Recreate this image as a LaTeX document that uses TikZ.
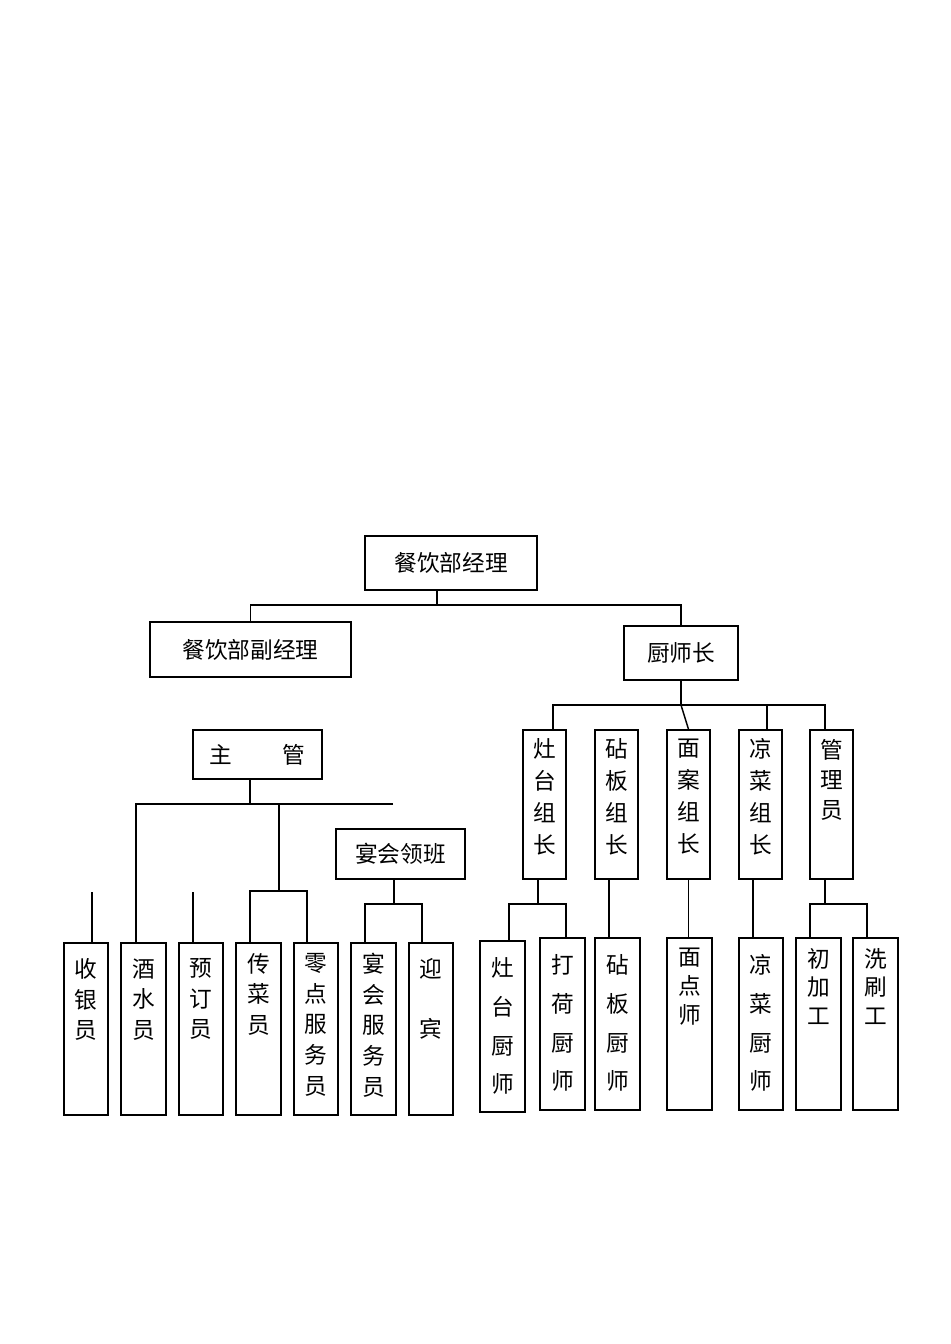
\documentclass[tikz,border=0pt]{standalone}
\usepackage{fontspec}
\newfontfamily\cjk{Noto Sans CJK SC}
\tikzset{
  bx/.style={draw, line width=1.1pt, inner sep=0pt},
  ln/.style={line width=1.1pt},
  tx/.style={anchor=north, align=center, inner sep=0pt, font=\cjk\fontsize{17}{#1}\selectfont},
  tx/.default=23pt
}
\newcommand\bx[5]{\node[bx, minimum width={(#4-#2)*0.75pt}, minimum height={(#5-#3)*0.75pt}] (#1) at ({(#2+#4)/2},{(#3+#5)/2}) {};}
\begin{document}
\begin{tikzpicture}[x=0.75pt,y=-0.75pt]
\useasboundingbox (0,0) rectangle (950,1344);
% top level
\node[bx, minimum width={172*0.75pt}, minimum height={54*0.75pt}, font=\cjk\fontsize{17}{20}\selectfont] (mgr) at (451,563) {餐饮部经理};
\node[bx, minimum width={201*0.75pt}, minimum height={55*0.75pt}, font=\cjk\fontsize{17}{20}\selectfont] (dep) at (250.5,649.5) {餐饮部副经理};
\node[bx, minimum width={114*0.75pt}, minimum height={54*0.75pt}, font=\cjk\fontsize{17}{20}\selectfont] (chef) at (681,653) {厨师长};
\coordinate (m1) at (437,605);
\draw[ln] (mgr.south -| m1) -- (m1);
\draw[ln] (dep.north) |- (m1) -| (chef.north);
% left side
\node[bx, minimum width={129*0.75pt}, minimum height={49*0.75pt}, font=\cjk\fontsize{17}{20}\selectfont] (sup) at (257.5,754.5) {主\hspace{2.2em}管};
\node[bx, minimum width={129*0.75pt}, minimum height={50*0.75pt}, font=\cjk\fontsize{17}{20}\selectfont] (ban) at (400.5,854) {宴会领班};
\bx{b1}{64}{943}{108}{1115}
\bx{b2}{121}{943}{166}{1115}
\bx{b3}{179}{943}{223}{1115}
\bx{b4}{236}{943}{281}{1115}
\bx{b5}{294}{943}{338}{1115}
\bx{b6}{351}{943}{396}{1115}
\bx{b7}{409}{943}{453}{1115}
\node[tx] (t1) at ([yshift=-12pt]b1.north) {收\\银\\员};
\node[tx] (t2) at ([yshift=-12pt]b2.north) {酒\\水\\员};
\node[tx] (t3) at ([yshift=-12pt]b3.north) {预\\订\\员};
\node[tx] (t4) at ([yshift=-8pt]b4.north) {传\\菜\\员};
\node[tx] (t5) at ([yshift=-8pt]b5.north) {零\\点\\服\\务\\员};
\node[tx] (t6) at ([yshift=-8pt]b6.north) {宴\\会\\服\\务\\员};
\node[tx] (t7) at ([yshift=-12pt]b7.north) {迎\\[22pt]宾};
\coordinate (s1) at (250,804);
\coordinate (s2) at (136,804);
\coordinate (s3) at (393,804);
\coordinate (s4) at (279,804);
\draw[ln] (sup.south -| s1) -- (s1);
\draw[ln] (s3) -- (s2) -- (b2.north -| s2);
\coordinate (s5) at (279,891);
\draw[ln] (s4) -- (s5);
\draw[ln] (b4.north -| 250,0) |- (s5) -| (b5.north -| 307,0);
\coordinate (f1) at (92,892);
\coordinate (f2) at (193,892);
\draw[ln] (f1) -- (b1.north -| f1);
\draw[ln] (f2) -- (b3.north -| f2);
\coordinate (q1) at (394,904);
\draw[ln] (ban.south -| q1) -- (q1);
\draw[ln] (b6.north -| 365,0) |- (q1) -| (b7.north -| 422,0);
% right side
\bx{g1}{523}{730}{566}{879}
\bx{g2}{595}{730}{638}{879}
\bx{g3}{667}{730}{710}{879}
\bx{g4}{739}{730}{782}{879}
\bx{g5}{810}{730}{853}{879}
\node[tx=24pt] (u1) at ([yshift=-7pt]g1.north) {灶\\台\\组\\长};
\node[tx=24pt] (u2) at ([yshift=-7pt]g2.north) {砧\\板\\组\\长};
\node[tx=24pt] (u3) at ([yshift=-7pt]g3.north) {面\\案\\组\\长};
\node[tx=24pt] (u4) at ([yshift=-7pt]g4.north) {凉\\菜\\组\\长};
\node[tx=22.5pt] (u5) at ([yshift=-7pt]g5.north) {管\\理\\员};
\coordinate (c1) at (681,705);
\draw[ln] (chef.south) -- (c1);
\draw[ln] (g1.north -| 553,0) |- (c1) -| (g5.north -| 825,0);
\draw[ln] (c1) -- (g3.north);
\draw[ln] (767,705) -- (g4.north -| 767,0);
\bx{k1}{480}{941}{525}{1112}
\bx{k2}{540}{938}{585}{1110}
\bx{k3}{595}{938}{640}{1110}
\bx{k4}{667}{938}{712}{1110}
\bx{k5}{739}{938}{783}{1110}
\bx{k6}{796}{938}{841}{1110}
\bx{k7}{853}{938}{898}{1110}
\node[tx=29pt] (v1) at ([yshift=-13pt]k1.north) {灶\\台\\厨\\师};
\node[tx=29pt] (v2) at ([yshift=-13pt]k2.north) {打\\荷\\厨\\师};
\node[tx=29pt] (v3) at ([yshift=-13pt]k3.north) {砧\\板\\厨\\师};
\node[tx=21.5pt] (v4) at ([yshift=-8pt]k4.north) {面\\点\\师};
\node[tx=29pt] (v5) at ([yshift=-13pt]k5.north) {凉\\菜\\厨\\师};
\node[tx=21.5pt] (v6) at ([yshift=-8pt]k6.north) {初\\加\\工};
\node[tx=21.5pt] (v7) at ([yshift=-8pt]k7.north) {洗\\刷\\工};
\coordinate (d1) at (538,904);
\draw[ln] (g1.south -| d1) -- (d1);
\draw[ln] (k1.north -| 509,0) |- (d1) -| (k2.north -| 566,0);
\draw[ln] (g2.south -| 609,0) -- (k3.north -| 609,0);
\draw[ln] (g3.south) -- (k4.north -| g3.south);
\draw[ln] (g4.south -| 753,0) -- (k5.north -| 753,0);
\coordinate (d2) at (825,904);
\draw[ln] (g5.south -| d2) -- (d2);
\draw[ln] (k6.north -| 810,0) |- (d2) -| (k7.north -| 867,0);
\end{tikzpicture}
\end{document}
